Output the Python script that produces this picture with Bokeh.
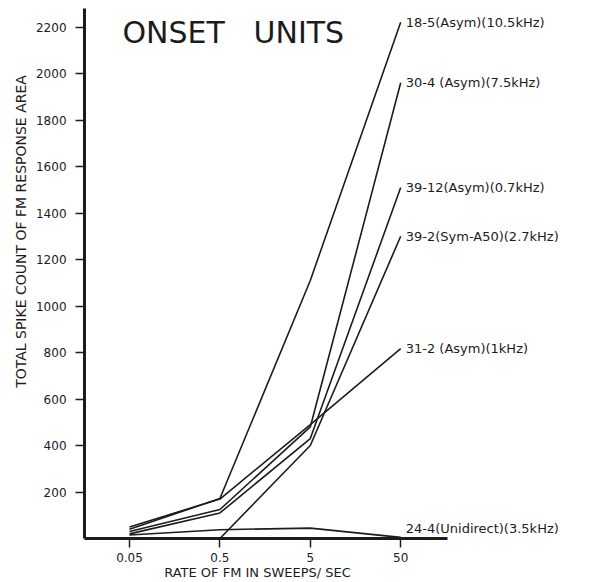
from bokeh.plotting import figure
from bokeh.models import Range1d, FixedTicker, Label, LogAxis, LinearAxis
from bokeh.embed import file_html
from bokeh.resources import INLINE
import math

# FM sweep rates (sweeps/sec)
rates = [0.05, 0.5, 5, 50]
x_tick_labels = {0.05: "0.05", 0.5: "0.5", 5: "5", 50: "50"}
y_ticks = [200, 400, 600, 800, 1000, 1200, 1400, 1600, 1800, 2000, 2200]

unit_names = [
    "18-5(Asym)(10.5kHz)",
    "30-4 (Asym)(7.5kHz)",
    "39-12(Asym)(0.7kHz)",
    "39-2(Sym-A50)(2.7kHz)",
    "31-2 (Asym)(1kHz)",
    "24-4(Unidirect)(3.5kHz)",
]
u18_5 = [40, 172, 1110, 2220]
u30_4 = [30, 125, 480, 1960]
u39_12 = [20, 110, 430, 1510]
u39_2 = [0, 0, 400, 1300]
u31_2 = [50, 170, 490, 817]
u24_4 = [15, 38, 45, 5]
series = [u18_5, u30_4, u39_12, u39_2, u31_2, u24_4]
label_dy = [0, 0, 0, 0, 0, 40]

INK = "#1c1c1c"
FONT = "DejaVu Sans"

p = figure(width=593, height=582, x_axis_type="log",
           x_axis_location=None, y_axis_location=None,
           x_range=Range1d(0.00187, 6790), y_range=Range1d(-189, 2314),
           output_backend="svg", toolbar_location=None,
           min_border_left=0, min_border_right=0,
           min_border_top=0, min_border_bottom=0)
p.grid.visible = False
p.outline_line_color = None
p.background_fill_color = "white"

xaxis = LogAxis(fixed_location=0, bounds=(0.0159, 165))
yaxis = LinearAxis(fixed_location=0.0159, bounds=(0, 2280))
p.add_layout(xaxis, "below")
p.add_layout(yaxis, "left")

for vals, name, dy in zip(series, unit_names, label_dy):
    p.line(rates, vals, line_color=INK, line_width=1.6)
    p.add_layout(Label(x=rates[-1], y=vals[-1] + dy, text=name,
                       x_offset=5, text_baseline="middle", text_align="left",
                       text_font=FONT, text_font_size="13px", text_color=INK))

for ax in (xaxis, yaxis):
    ax.axis_line_width = 3
    ax.axis_line_color = INK
    ax.major_tick_line_color = INK
    ax.major_tick_line_width = 1.5
    ax.major_tick_out = 9
    ax.major_tick_in = 0
    ax.minor_tick_line_color = None
    ax.major_label_text_font = FONT
    ax.major_label_text_font_size = "12px"
    ax.major_label_text_color = INK

xaxis.ticker = FixedTicker(ticks=rates)
xaxis.major_label_overrides = x_tick_labels
xaxis.major_label_standoff = 5
yaxis.ticker = FixedTicker(ticks=y_ticks)
yaxis.major_label_standoff = 9

p.add_layout(Label(x=122, y=550, x_units="screen", y_units="screen",
                   text="ONSET\u00a0\u00a0\u00a0UNITS", text_font=FONT,
                   text_font_size="30px", text_color=INK, text_baseline="middle"))
p.add_layout(Label(x=257, y=10, x_units="screen", y_units="screen",
                   text="RATE OF FM IN SWEEPS/ SEC", text_font=FONT,
                   text_font_size="13px", text_color=INK,
                   text_align="center", text_baseline="middle"))
p.add_layout(Label(x=20, y=351, x_units="screen", y_units="screen",
                   text="TOTAL SPIKE COUNT OF FM RESPONSE AREA", text_font=FONT,
                   text_font_size="14px", text_color=INK, angle=math.pi / 2,
                   text_align="center", text_baseline="middle"))

open("out.html", "w").write(file_html(p, INLINE))
